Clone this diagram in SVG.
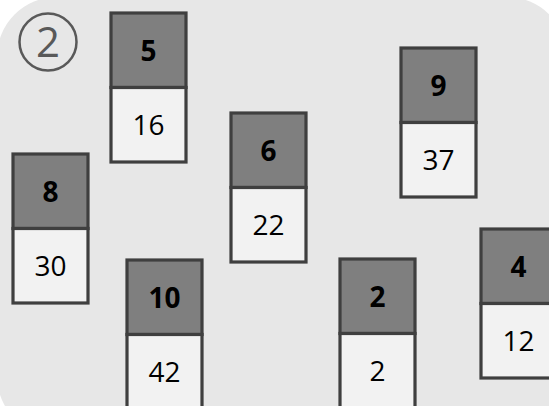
<svg xmlns="http://www.w3.org/2000/svg" width="549" height="406" viewBox="0 0 549 406">
<style>
.top{fill:#7f7f7f;stroke:#3f3f3f;stroke-width:3.2}
.bot{fill:#f2f2f2;stroke:#3f3f3f;stroke-width:3.2}
.k{font-family:"Open Sans","Noto Sans",sans-serif;font-weight:bold;font-size:28px;fill:#000;text-anchor:middle}
.v{font-family:"Open Sans","Noto Sans",sans-serif;font-size:28px;fill:#000;text-anchor:middle}
</style>
<rect x="0" y="0" width="549" height="406" fill="#ffffff"/>
<rect x="-3" y="-3" width="570" height="439" rx="60" ry="60" fill="#e7e7e7"/>
<g id="label">
<circle cx="48" cy="42" r="28.5" fill="none" stroke="#595959" stroke-width="2.5"/>
<text x="48" y="57" font-family="Open Sans, Noto Sans, sans-serif" font-size="42" fill="#595959" text-anchor="middle">2</text>
</g>
<g id="connectors"></g>
<g id="n5" transform="translate(111,13)">
<rect class="top" x="0" y="0" width="75" height="74.5"/><rect class="bot" x="0" y="74.5" width="75" height="74.5"/>
<text class="k" x="37.5" y="47.5">5</text><text class="v" x="37.5" y="122">16</text>
</g>
<g id="n8" transform="translate(13,154)">
<rect class="top" x="0" y="0" width="75" height="74.5"/><rect class="bot" x="0" y="74.5" width="75" height="74.5"/>
<text class="k" x="37.5" y="47.5">8</text><text class="v" x="37.5" y="122">30</text>
</g>
<g id="n10" transform="translate(127,260)">
<rect class="top" x="0" y="0" width="75" height="74.5"/><rect class="bot" x="0" y="74.5" width="75" height="74.5"/>
<text class="k" x="37.5" y="47.5">10</text><text class="v" x="37.5" y="122">42</text>
</g>
<g id="n2" transform="translate(340,259)">
<rect class="top" x="0" y="0" width="75" height="74.5"/><rect class="bot" x="0" y="74.5" width="75" height="74.5"/>
<text class="k" x="37.5" y="47.5">2</text><text class="v" x="37.5" y="122">2</text>
</g>
<g id="n4" transform="translate(481,229)">
<rect class="top" x="0" y="0" width="75" height="74.5"/><rect class="bot" x="0" y="74.5" width="75" height="74.5"/>
<text class="k" x="37.5" y="47.5">4</text><text class="v" x="37.5" y="122">12</text>
</g>
<g id="n9" transform="translate(401,48)">
<rect class="top" x="0" y="0" width="75" height="74.5"/><rect class="bot" x="0" y="74.5" width="75" height="74.5"/>
<text class="k" x="37.5" y="47.5">9</text><text class="v" x="37.5" y="122">37</text>
</g>
<g id="n6" transform="translate(231,113)">
<rect class="top" x="0" y="0" width="75" height="74.5"/><rect class="bot" x="0" y="74.5" width="75" height="74.5"/>
<text class="k" x="37.5" y="47.5">6</text><text class="v" x="37.5" y="122">22</text>
</g>
</svg>
